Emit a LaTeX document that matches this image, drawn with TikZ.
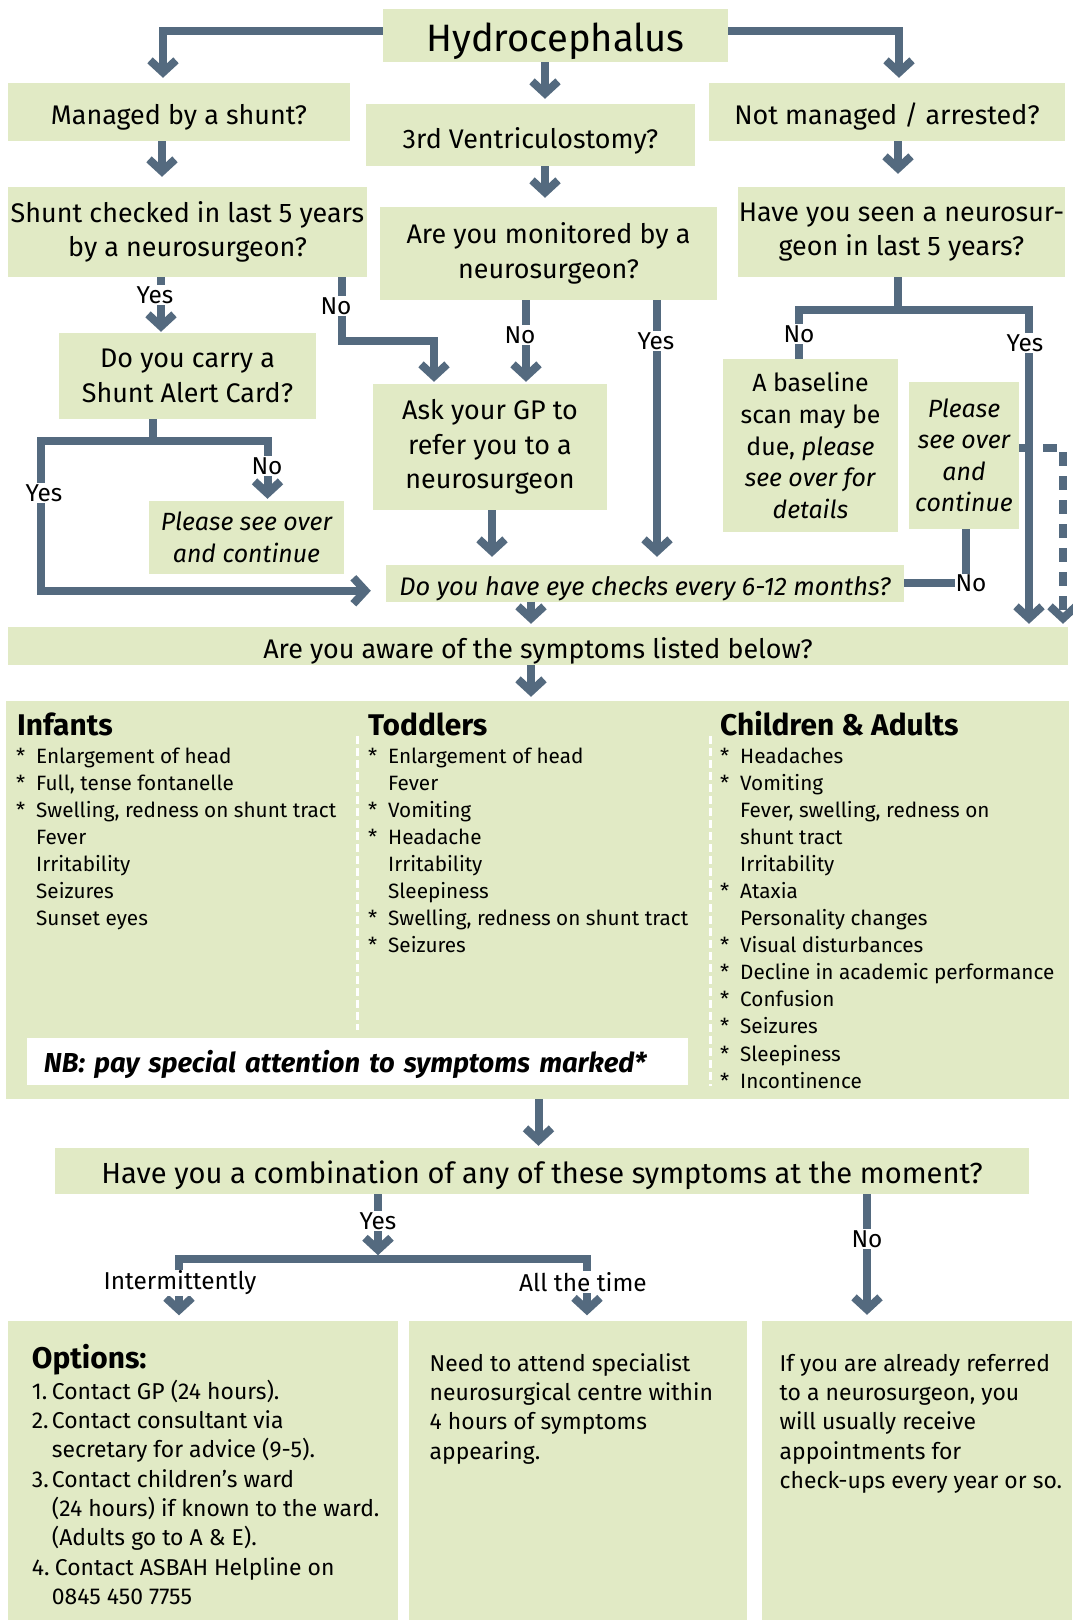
\documentclass[tikz,border=0pt]{standalone}
\usepackage{fontspec}
\setmainfont{Fira Sans}
\usetikzlibrary{positioning, arrows.meta}

\definecolor{boxgreen}{HTML}{E1EAC5}
\definecolor{slate}{HTML}{546A7F}

\begin{document}
\begin{tikzpicture}[x=1bp, y=-1bp,
		qbox/.style={fill=boxgreen, inner sep=0pt, align=center, font=\fontsize{27}{34.5}\selectfont},
		sbox/.style={qbox, font=\fontsize{25}{32}\selectfont},
		oneline/.style={text height=#1, text depth=0pt},
		wire/.style={draw=slate, line width=8bp},
		arr/.style={wire, -{Straight Barb[length=12bp, width=26bp]}},
		lbl/.style={fill=white, inner sep=1bp, font=\fontsize{24.5}{28}\selectfont},
		colhead/.style={anchor=base west, inner sep=0pt, font=\bfseries\fontsize{30}{34}\selectfont},
		symlist/.style={anchor=base west, inner sep=0pt, font=\fontsize{20.8}{27.2}\selectfont},
		bodytext/.style={anchor=base west, inner sep=0pt, font=\fontsize{23}{29.5}\selectfont},
		coldash/.style={draw=white, line width=3bp, dash pattern=on 8bp off 4bp}]
	\useasboundingbox (0,0) rectangle (1072,1620);
	
	\node[qbox, oneline=32bp, minimum width=345bp, minimum height=53bp, font=\fontsize{38.3}{44}\selectfont] (hydro) at (555.5,35.5) {Hydrocephalus};
	
	\node[qbox, oneline=25bp, minimum width=342bp, minimum height=58bp] (managed) at (179,112) {Managed by a shunt?};
	\node[qbox, oneline=26bp, minimum width=329bp, minimum height=62bp] (ventric) at (530.5,135) {3rd Ventriculostomy?};
	\node[qbox, oneline=25bp, minimum width=356bp, minimum height=58bp] (notman) at (887,112) {Not managed / arrested?};
	
	\node[qbox, minimum width=359bp, minimum height=90bp] (checked) at (187.5,232) {Shunt checked in last 5 years\\by a neurosurgeon?};
	\node[qbox, minimum width=337bp, minimum height=93bp] (monitored) at (548.5,253.5) {Are you monitored by a\\neurosurgeon?};
	\node[qbox, minimum width=327bp, minimum height=90bp] (seen) at (901.5,232) {Have you seen a neurosur-\\geon in last 5 years?};
	
	\node[qbox, minimum width=257bp, minimum height=86bp] (carry) at (187.5,376) {Do you carry a\\Shunt Alert Card?};
	\node[qbox, minimum width=234bp, minimum height=126bp] (askgp) at (490,447) {Ask your GP to\\refer you to a\\neurosurgeon};
	\node[sbox, minimum width=175bp, minimum height=173bp] (baseline) at (810.5,445.5) {A baseline\\scan may be\\due, \textit{please}\\\textit{see over for}\\\textit{details}};
	\node[sbox, minimum width=110bp, minimum height=147bp, font=\itshape\fontsize{25}{31.6}\selectfont] (overright) at (964,455.5) {Please\\see over\\and\\continue};
	\node[sbox, minimum width=195bp, minimum height=73bp, font=\itshape\fontsize{25}{32.3}\selectfont] (overleft) at (246.5,537.5) {Please see over\\and continue};
	\node[sbox, oneline=23.5bp, minimum width=518bp, minimum height=36.5bp, font=\itshape\fontsize{25.5}{30}\selectfont] (eyes) at (645,583.25) {Do you have eye checks every 6-12 months?};
	\node[qbox, oneline=24bp, minimum width=1060bp, minimum height=38bp] (aware) at (538,646) {Are you aware of the symptoms listed below?};
	
	\node[qbox, minimum width=1063bp, minimum height=398bp] (symptoms) at (537.5,900) {};
	\node[qbox, oneline=22bp, fill=white, minimum width=661bp, minimum height=47bp, text width=627bp, align=left, font=\bfseries\itshape\fontsize{27.5}{32}\selectfont] (nb) at (357.5,1061.5) {NB: pay special attention to symptoms marked*};
	\draw[coldash] (357,736) -- (357,1030);
	\draw[coldash] (710,736) -- (710,1086);
	
	\node[colhead] (infhead) at (17,735) {Infants};
	\node[colhead] (todhead) at (368,735) {Toddlers};
	\node[colhead] (adulthead) at (720,735) {Children \& Adults};
	
	\node[symlist] (inflist) at (16,763) {\begin{tabular}[t]{@{}p{20bp}@{}l@{}}
		{*}&Enlargement of head\\
		{*}&Full, tense fontanelle\\
		{*}&Swelling, redness on shunt tract\\
		&Fever\\
		&Irritability\\
		&Seizures\\
		&Sunset eyes
	\end{tabular}};
	\node[symlist] (todlist) at (368,763) {\begin{tabular}[t]{@{}p{20bp}@{}l@{}}
		{*}&Enlargement of head\\
		&Fever\\
		{*}&Vomiting\\
		{*}&Headache\\
		&Irritability\\
		&Sleepiness\\
		{*}&Swelling, redness on shunt tract\\
		{*}&Seizures
	\end{tabular}};
	\node[symlist] (adultlist) at (720,763) {\begin{tabular}[t]{@{}p{20bp}@{}l@{}}
		{*}&Headaches\\
		{*}&Vomiting\\
		&Fever, swelling, redness on\\
		&shunt tract\\
		&Irritability\\
		{*}&Ataxia\\
		&Personality changes\\
		{*}&Visual disturbances\\
		{*}&Decline in academic performance\\
		{*}&Confusion\\
		{*}&Seizures\\
		{*}&Sleepiness\\
		{*}&Incontinence
	\end{tabular}};
	
	\node[qbox, oneline=24bp, minimum width=974bp, minimum height=46bp, font=\fontsize{29.2}{36}\selectfont] (combo) at (542,1171) {Have you a combination of any of these symptoms at the moment?};
	\node[qbox, minimum width=390bp, minimum height=299bp] (opts) at (203,1470.5) {};
	\node[qbox, minimum width=338bp, minimum height=299bp] (attend) at (578,1470.5) {};
	\node[qbox, minimum width=310bp, minimum height=299bp] (referred) at (917,1470.5) {};
	
	\node[colhead] (optshead) at (31.7,1368) {Options:};
	\node[bodytext] (optlist) at (31.7,1399) {\begin{tabular}[t]{@{}p{20bp}@{}l@{}}
		1.&Contact GP (24 hours).\\
		2.&Contact consultant via\\
		&secretary for advice (9-5).\\
		3.&Contact children's ward\\
		&(24 hours) if known to the ward.\\
		&(Adults go to A \& E).\\
		4.&\hspace{3bp}Contact ASBAH Helpline on\\
		&0845 450 7755
	\end{tabular}};
	\node[bodytext] (attendtxt) at (429.5,1371) {\begin{tabular}[t]{@{}l@{}}
		Need to attend specialist\\
		neurosurgical centre within\\
		4 hours of symptoms\\
		appearing.
	\end{tabular}};
	\node[bodytext] (referredtxt) at (779.5,1371) {\begin{tabular}[t]{@{}l@{}}
		If you are already referred\\
		to a neurosurgeon, you\\
		will usually receive\\
		appointments for\\
		check-ups every year or so.
	\end{tabular}};
	
	\coordinate (nobend) at ([xshift=154.5bp, yshift=-64bp]checked.south);
	\coordinate (seenfork) at ([xshift=-3.5bp, yshift=-32.5bp]seen.south);
	\coordinate (carryfork) at ([xshift=-34.5bp, yshift=-22bp]carry.south);
	\coordinate (yesturn) at ([xshift=-111.5bp]carryfork);
	\coordinate (combofork) at ([xshift=-164bp, yshift=-65bp]combo.south);
	
	\draw[arr, shorten >=5bp] ([yshift=4.5bp]hydro.west) -| ([xshift=-16bp]managed.north);
	\draw[arr, shorten >=5bp] ([yshift=4.5bp]hydro.east) -| ([xshift=12bp]notman.north);
	\draw[arr, shorten >=5bp] ([xshift=-10.5bp]hydro.south) -- ([xshift=-10.5bp]hydro.south |- ventric.north);
	
	\draw[arr, shorten >=10bp] ([xshift=-17bp]managed.south) -- ([xshift=-17bp]managed.south |- checked.north);
	\draw[arr, shorten >=9bp] ([xshift=14.5bp]ventric.south) -- ([xshift=14.5bp]ventric.south |- monitored.north);
	\draw[arr, shorten >=13bp] ([xshift=11bp]notman.south) -- ([xshift=11bp]notman.south |- seen.north);
	
	\draw[arr, shorten >=1bp] ([xshift=-26.5bp]checked.south) -- ([xshift=-26.5bp]checked.south |- carry.north);
	\draw[arr, shorten >=2bp] ([xshift=154.5bp]checked.south) -- (nobend) -| ([xshift=-56bp]askgp.north);
	\draw[arr, shorten >=2bp] ([xshift=-22.5bp]monitored.south) -- ([xshift=-22.5bp]monitored.south |- askgp.north);
	\draw[arr, shorten >=8bp] ([xshift=108.5bp]monitored.south) -- ([xshift=108.5bp]monitored.south |- eyes.north);
	
	\draw[wire] ([xshift=-3.5bp]seen.south) -- (seenfork);
	\draw[arr, shorten >=3bp] ([xshift=-11.5bp]baseline.north) |- (seenfork) -| ([xshift=491bp]aware.north);
	\draw[wire] ([xshift=2bp]overright.south) |- (eyes.east);
	\draw[arr, shorten >=3bp, dash pattern=on 14bp off 10bp] ([yshift=7.5bp]overright.east) -| ([xshift=525bp]aware.north);
	
	\draw[wire] ([xshift=-34.5bp]carry.south) -- (carryfork);
	\draw[arr, shorten >=2bp] (carryfork) -| ([xshift=21bp]overleft.north);
	\draw[arr, shorten >=15bp] (carryfork) -- (yesturn) |- ([yshift=-7.5bp]eyes.west);
	
	\draw[arr, shorten >=8bp] ([xshift=2bp]askgp.south) -- ([xshift=2bp]askgp.south |- eyes.north);
	\draw[arr, shorten >=3bp] ([xshift=-114bp]eyes.south) -- ([xshift=-114bp]eyes.south |- aware.north);
	\draw[arr, shorten >=4bp] ([xshift=-7bp]aware.south) -- ([xshift=-7bp]aware.south |- symptoms.north);
	\draw[arr, shorten >=2bp] ([xshift=1bp]symptoms.south) -- ([xshift=1bp]symptoms.south |- combo.north);
	
	\draw[arr, shorten >=4bp] ([xshift=-164bp]combo.south) -- (combofork);
	\draw[arr, shorten >=5.5bp] (combofork) -| ([xshift=-24bp]opts.north);
	\draw[arr, shorten >=5.5bp] (combofork) -| ([xshift=9bp]attend.north);
	\draw[arr, shorten >=6bp] ([xshift=325bp]combo.south) -- ([xshift=325bp]combo.south |- referred.north);
	
	\node[lbl] (yes-carry) at (155,295) {Yes};
	\node[lbl] (no-gp) at (336,306) {No};
	\node[lbl] (no-mon) at (520,335) {No};
	\node[lbl] (yes-mon) at (656,341) {Yes};
	\node[lbl] (no-seen) at (799,334) {No};
	\node[lbl] (yes-seen) at (1025,343) {Yes};
	\node[lbl] (yes-card) at (44,493) {Yes};
	\node[lbl] (no-card) at (267,466) {No};
	\node[lbl] (no-eyes) at ([xshift=7bp]overright.south |- eyes.east) {No};
	\node[lbl] (yes-combo) at (378,1221) {Yes};
	\node[lbl] (intermit) at (180,1283) {Intermittently};
	\node[lbl] (alltime) at (583,1282) {All the time};
	\node[lbl] (no-combo) at (867,1239) {No};
	
\end{tikzpicture}
\end{document}
